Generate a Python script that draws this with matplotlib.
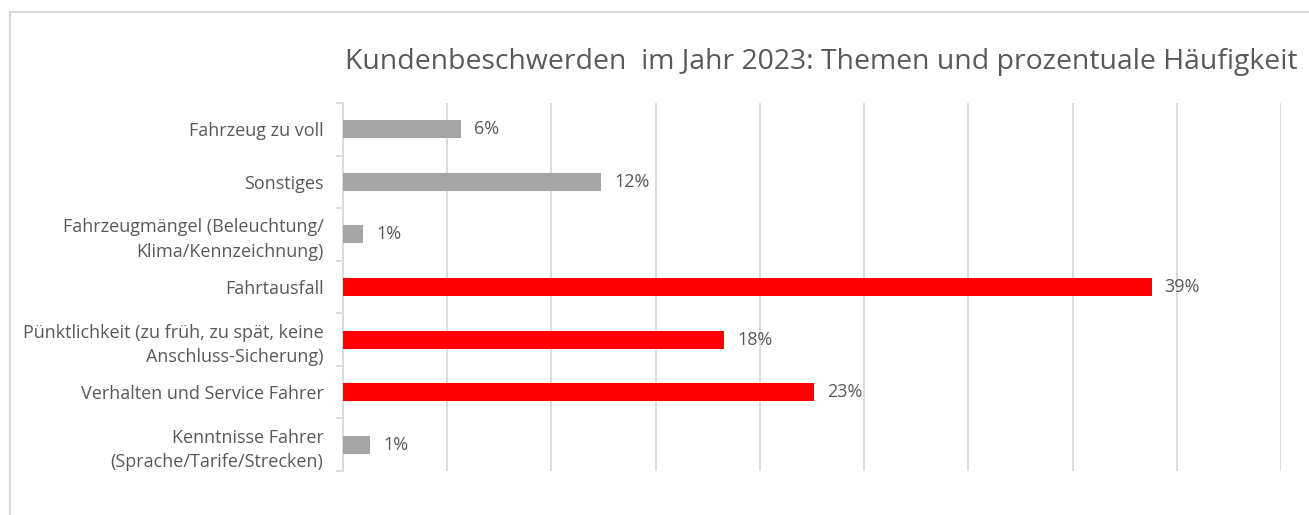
import matplotlib.pyplot as plt
from matplotlib.lines import Line2D

# complaint topics, top to bottom as in the chart
categories = ["Fahrzeug zu voll", "Sonstiges",
              "Fahrzeugmängel (Beleuchtung/\nKlima/Kennzeichnung)",
              "Fahrtausfall",
              "Pünktlichkeit (zu früh, zu spät, keine\nAnschluss-Sicherung)",
              "Verhalten und Service Fahrer",
              "Kenntnisse Fahrer\n(Sprache/Tarife/Strecken)"]
values = [5.66, 12.4, 0.96, 38.8, 18.3, 22.6, 1.3]
highlight = [False, False, False, True, True, True, False]

GREY = "#a5a5a5"
RED = "#ff0000"
TEXT = "#595959"
GRID = "#d9d9d9"

plt.rcParams['font.family'] = ['Open Sans', 'DejaVu Sans']

fig = plt.figure(figsize=(13.09, 5.15), dpi=100)
ax = fig.add_axes([343/1309, 1-471/515, (1281-343)/1309, (471-103)/515])

ypos = list(range(len(categories)))
colors = [RED if h else GREY for h in highlight]
bars = ax.barh(ypos, values, height=0.34, color=colors, zorder=3)

for b, v in zip(bars, values):
    ax.text(b.get_width() + 0.62, b.get_y() + b.get_height()/2, "{:.0f}%".format(v),
            va="center", ha="left", fontsize=13, color=TEXT)

ax.set_xlim(0, 45)
ax.set_ylim(len(categories) - 0.5, -0.5)
ax.set_xticks(range(0, 46, 5))
ax.set_xticklabels([])
ax.tick_params(axis="x", length=0)
ax.grid(axis="x", color=GRID, linewidth=1.3, zorder=0)

ax.set_yticks(ypos)
ax.set_yticklabels(categories, fontsize=13, color=TEXT, linespacing=1.45)
ax.set_yticks([i - 0.5 for i in range(len(categories) + 1)], minor=True)
ax.tick_params(axis="y", which="major", length=0, pad=14)
ax.tick_params(axis="y", which="minor", length=5, color=GRID, width=1.3)

for s in ["top", "right", "bottom"]:
    ax.spines[s].set_visible(False)
ax.spines["left"].set_color(GRID)
ax.spines["left"].set_linewidth(1.3)

fig.text(821/1309, 1-62/515, "Kundenbeschwerden  im Jahr 2023: Themen und prozentuale Häufigkeit",
         ha="center", va="center", fontsize=20.4, color=TEXT)

# outer chart frame (cut off on right and bottom)
fig.add_artist(Line2D([10/1309, 10/1309], [0, 1-12/515], color=GRID, linewidth=1.5))
fig.add_artist(Line2D([10/1309, 1], [1-12/515, 1-12/515], color=GRID, linewidth=1.5))

fig.savefig("out.png", dpi=100)
